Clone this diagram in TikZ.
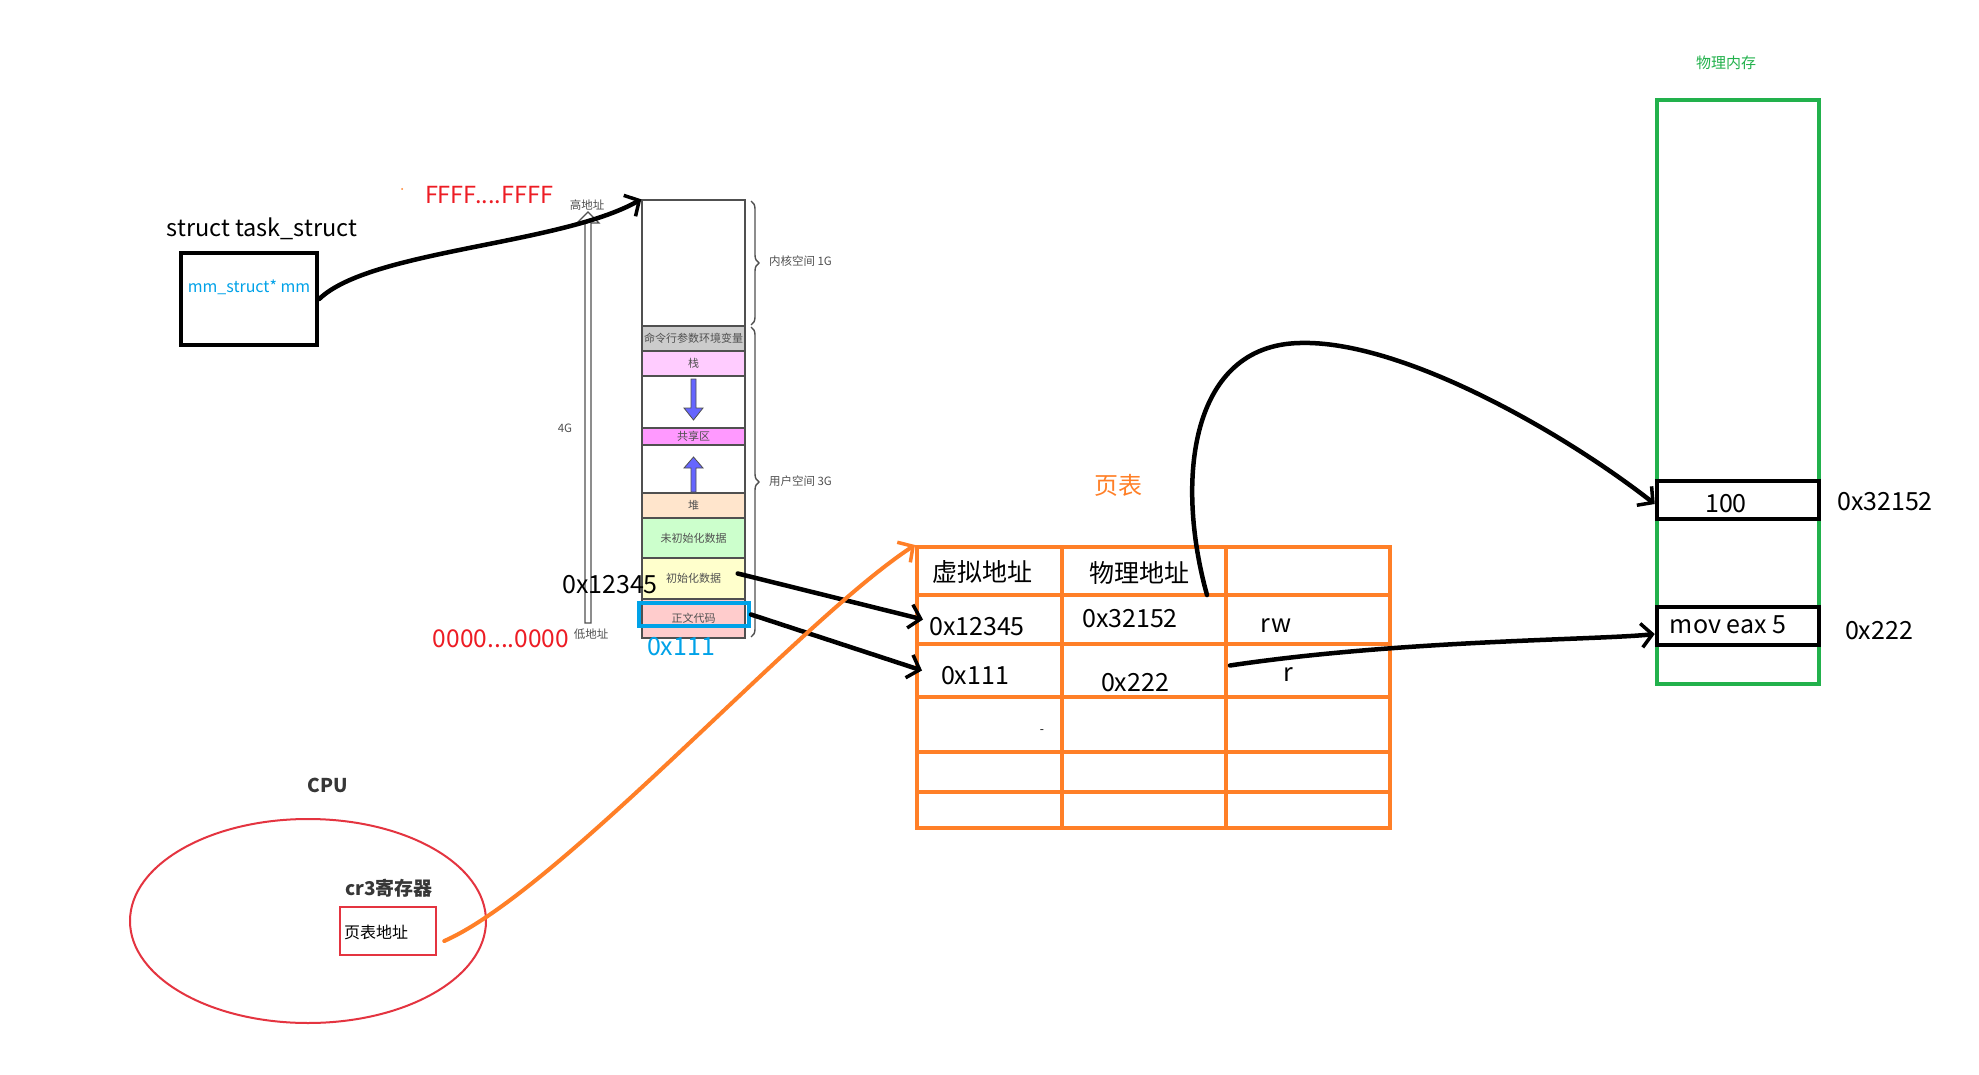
\documentclass[tikz,border=0pt]{standalone}
\usepackage{fontspec}
\setmainfont{Noto Sans CJK SC}
\usetikzlibrary{arrows.meta,decorations.pathreplacing,shapes.geometric}
\definecolor{tred}{RGB}{237,28,36}
\definecolor{tblue}{RGB}{0,162,232}
\definecolor{torange}{RGB}{255,127,39}
\definecolor{tgreen}{RGB}{34,177,76}
\definecolor{mgray}{RGB}{80,80,80}
\definecolor{dgray}{RGB}{55,55,55}
\definecolor{cpured}{RGB}{228,52,64}
\definecolor{cmdgray}{RGB}{204,204,204}
\definecolor{stackpink}{RGB}{255,204,255}
\definecolor{sharemag}{RGB}{255,153,255}
\definecolor{heappeach}{RGB}{255,229,204}
\definecolor{bssgreen}{RGB}{204,255,204}
\definecolor{datayellow}{RGB}{255,255,204}
\definecolor{textsalmon}{RGB}{255,204,204}
\definecolor{arrowblue}{RGB}{102,102,255}
\newcommand\myfs[1]{\fontsize{#1}{#1}\selectfont}
\begin{document}
\begin{tikzpicture}[x=1pt,y=-1pt,
  txt/.style={inner sep=0pt, outer sep=0pt},
  band/.style={draw=mgray, line width=1.4pt, minimum width=103pt, inner sep=0pt, font=\myfs{11}, text=mgray},
  memlbl/.style={txt, font=\myfs{11.5}, text=mgray},
  conn/.style={line width=4.5pt, line cap=round, -{Straight Barb[length=11pt,width=24pt,line width=3.5pt]}},
  tline/.style={draw=torange, line width=4pt},
  cellbox/.style={draw=none, inner sep=0pt, outer sep=0pt},
  membox/.style={draw=black, line width=4.5pt, minimum width=162pt, minimum height=38pt, inner sep=0pt},
  big/.style={txt, font=\myfs{25}},
]
\fill[white] (0,0) rectangle (1979,1075);
\useasboundingbox (0,0) rectangle (1979,1075);

% ---------- task_struct ----------
\node[txt, font=\myfs{23.5}] (tstitle) at (262,229) {struct task\_struct};
\node[draw, line width=4.5pt, minimum width=136pt, minimum height=92pt, inner sep=0pt] (task) at (249,299) {};
\node[txt, font=\myfs{16}, text=tblue] (mm) at (249,287) {mm\_struct* mm};

\node[txt, font=\myfs{23.5}, text=tred] (ffff) at (489,195) {FFFF....FFFF};
\fill[torange] (402,189) circle (1pt);
\node[txt, font=\myfs{24.5}, text=tred] (zero) at (501,639) {0000....0000};

% ---------- virtual memory column ----------
\filldraw[fill=white, draw=mgray, line width=1.2pt] (585,623) -- (585,223) -- (577,223) -- (588,212) -- (599,223) -- (591,223) -- (591,623) -- cycle;
\node[memlbl] (hi) at (587,205) {高地址};
\node[memlbl] (lo) at (591,634) {低地址};
\node[memlbl] (fourg) at (565,428) {4G};

\node[draw=mgray, line width=1.4pt, minimum width=103pt, minimum height=438pt, inner sep=0pt] (col) at (693.5,419) {};
\node[band, fill=cmdgray, minimum height=25pt] (cmd) at (693.5,338.5) {命令行参数环境变量};
\node[band, fill=stackpink, minimum height=25pt] (stack) at (693.5,363.5) {栈};
\node[band, fill=sharemag, minimum height=17pt] (share) at (693.5,436.5) {共享区};
\node[band, fill=heappeach, minimum height=25pt] (heap) at (693.5,505.5) {堆};
\node[band, fill=bssgreen, minimum height=40pt] (bss) at (693.5,538) {未初始化数据};
\node[band, fill=datayellow, minimum height=41pt] (data) at (693.5,578.5) {初始化数据};
\node[band, fill=textsalmon, minimum height=39pt] (code) at (693.5,618.5) {正文代码};
\node[draw=tblue, line width=4pt, minimum width=110pt, minimum height=23pt, inner sep=0pt] (cur) at (694,614.5) {};

\filldraw[fill=arrowblue, draw=mgray, line width=0.8pt] (691,379) -- (696,379) -- (696,408) -- (703,408) -- (693.5,420) -- (684,408) -- (691,408) -- cycle;
\filldraw[fill=arrowblue, draw=mgray, line width=0.8pt] (691,492) -- (696,492) -- (696,468) -- (703,468) -- (693.5,457) -- (684,468) -- (691,468) -- cycle;

\draw[mgray, line width=1.4pt, decorate, decoration={brace, amplitude=8pt}] (751,201) -- (751,325);
\draw[mgray, line width=1.4pt, decorate, decoration={brace, amplitude=8pt}] (751,327) -- (751,637);
\node[memlbl, anchor=west] (kern) at (769,261) {内核空间 1G};
\node[memlbl, anchor=west] (user) at (769,481) {用户空间 3G};

\node[big] (va1) at (610,585) {0x12345};
\node[big, text=tblue] (va2) at (681,647) {0x111};

% ---------- page table ----------
\node[txt, font=\myfs{24}, text=torange] (pttitle) at (1118,485) {页表};
\node[draw=torange, line width=4pt, minimum width=473pt, minimum height=281pt, inner sep=0pt] (ptable) at (1153.5,687.5) {};
\draw[tline] (1062,547) -- (1062,828);
\draw[tline] (1226,547) -- (1226,828);
\foreach \yy in {595,644,697,752,792} {\draw[tline] (917,\yy) -- (1390,\yy);}
\node[cellbox, minimum width=164pt, minimum height=48pt] (hdr2) at (1144,571) {};
\node[cellbox, minimum width=145pt, minimum height=49pt] (c11) at (989.5,619.5) {};
\node[cellbox, minimum width=145pt, minimum height=53pt] (c21) at (989.5,670.5) {};
\node[cellbox, minimum width=164pt, minimum height=53pt] (c23) at (1308,670.5) {};

\node[big] (h1) at (982,572) {虚拟地址};
\node[big] (h2) at (1139,573) {物理地址};
\node[big] (t11) at (977,627) {0x12345};
\node[big] (t12) at (1130,619) {0x32152};
\node[big] (t13) at (1276,626) {rw};
\node[big] (t21) at (975,676) {0x111};
\node[big] (t22) at (1135,683) {0x222};
\node[big] (t23) at (1288,675) {r};
\node[txt, font=\myfs{12}] (dash) at (1042,732) {-};

% ---------- physical memory ----------
\node[txt, font=\myfs{15}, text=tgreen] (phystitle) at (1726,63) {物理内存};
\node[draw=tgreen, line width=4.5pt, minimum width=162pt, minimum height=584pt, inner sep=0pt] (phys) at (1738,392) {};
\node[membox] (box100) at (1738,500) {};
\node[membox] (movbox) at (1738,626) {};
\node[big] (v100) at (1726,504) {100};
\node[big] (vmov) at (1728,625) {mov eax 5};
\node[big] (pa1) at (1885,502) {0x32152};
\node[big] (pa2) at (1879,631) {0x222};

% ---------- CPU ----------
\node[txt, font=\myfs{19}\bfseries, text=dgray] (cputitle) at (328,785) {CPU};
\node[draw=cpured, line width=2pt, ellipse, minimum width=356pt, minimum height=204pt, inner sep=0pt] (cpu) at (308,921) {};
\node[txt, font=\myfs{19}\bfseries, text=dgray] (cr3) at (389,888) {cr3寄存器};
\node[draw=cpured, line width=2.5pt, minimum width=96pt, minimum height=48pt, inner sep=0pt] (regbox) at (388,931) {};
\node[txt, font=\myfs{16}, anchor=west] (regtxt) at (344,932) {页表地址};

% ---------- connectors ----------
\draw[conn] (task.east) .. controls (370,250) and (560,245) .. (col.north west);
\draw[conn] ([xshift=-8pt,yshift=5pt]data.east) -- ([xshift=6pt]c11.west);
\draw[conn] (cur.east) -- ([xshift=5pt]c21.west);
\draw[conn, draw=torange, line width=4pt] ([xshift=7pt,yshift=-10pt]regbox.east) .. controls (560,890) and (800,620) .. (ptable.north west);
\draw[conn] ([xshift=-19pt]hdr2.south east) .. controls (1175,480) and (1190,345) .. (1300,343) .. controls (1400,340) and (1560,430) .. ([yshift=-4pt]box100.west);
\draw[conn] ([xshift=4pt,yshift=5pt]c23.west) .. controls (1400,640) and (1600,640) .. ([yshift=-8pt]movbox.west);
\end{tikzpicture}
\end{document}
